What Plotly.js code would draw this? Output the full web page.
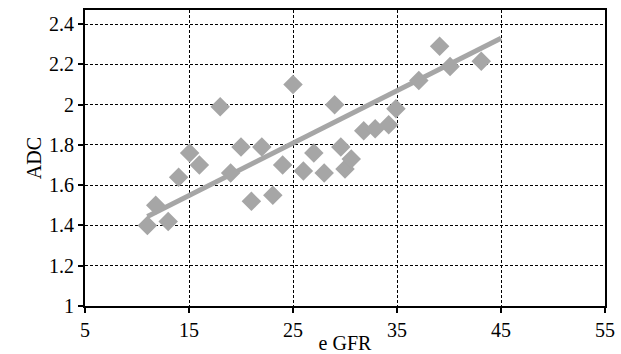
<!DOCTYPE html>
<html>
<head>
<meta charset="utf-8">
<script src="https://cdn.plot.ly/plotly-3.0.1.min.js"></script>
<style>html,body{margin:0;padding:0;background:#fff;}#chart{width:621px;height:354px;}</style>
</head>
<body>
<div id="chart"></div>
<script>
const egfr = [11.0, 11.8, 13.0, 14.0, 15.06, 16.0, 18.0, 19.0, 20.0, 21.0, 22.0, 23.06, 24.0, 25.0, 26.0, 27.0, 28.0, 29.0, 29.6, 30.0, 30.6, 31.8, 32.9, 34.2, 34.9, 37.1, 39.1, 40.1, 43.1];
const adc  = [1.40, 1.50, 1.42, 1.64, 1.76, 1.70, 1.99, 1.66, 1.79, 1.52, 1.79, 1.55, 1.70, 2.10, 1.67, 1.76, 1.66, 2.00, 1.79, 1.68, 1.73, 1.87, 1.88, 1.90, 1.98, 2.12, 2.29, 2.19, 2.215];
const trendX = [11, 45];
const trendY = [1.444, 2.33];
const xTicks = [5, 15, 25, 35, 45, 55];
const yTicks = [1, 1.2, 1.4, 1.6, 1.8, 2, 2.2, 2.4];
const yTickText = ['1', '1.2', '1.4', '1.6', '1.8', '2', '2.2', '2.4'];

const gray = '#a6a6a6';
const font = {family: '"Liberation Serif", "Times New Roman", serif', size: 20, color: '#000'};

const data = [
  {x: trendX, y: trendY, mode: 'lines', line: {color: gray, width: 5}, hoverinfo: 'skip', showlegend: false},
  {x: egfr, y: adc, mode: 'markers', marker: {symbol: 'diamond', size: 15, color: gray}, showlegend: false}
];

const axisCommon = {
  showline: true, linecolor: '#000', linewidth: 2, mirror: true,
  showgrid: true, gridcolor: '#000', gridwidth: 1, griddash: '3px,2px',
  ticks: 'outside', ticklen: 5, tickwidth: 2, tickcolor: '#000',
  zeroline: false, tickfont: font
};

const layout = {
  width: 621, height: 354,
  margin: {l: 85, r: 16, t: 10, b: 48},
  paper_bgcolor: '#fff', plot_bgcolor: '#fff',
  font: font,
  xaxis: Object.assign({}, axisCommon, {
    range: [5, 55], tickvals: xTicks, ticktext: xTicks.map(String),
    title: {text: 'e GFR', font: font, standoff: 0}
  }),
  yaxis: Object.assign({}, axisCommon, {
    range: [1, 2.47], tickvals: yTicks, ticktext: yTickText,
    title: {text: 'ADC', font: font, standoff: 2}
  })
};

Plotly.newPlot('chart', data, layout, {displayModeBar: false, staticPlot: true});
</script>
</body>
</html>
